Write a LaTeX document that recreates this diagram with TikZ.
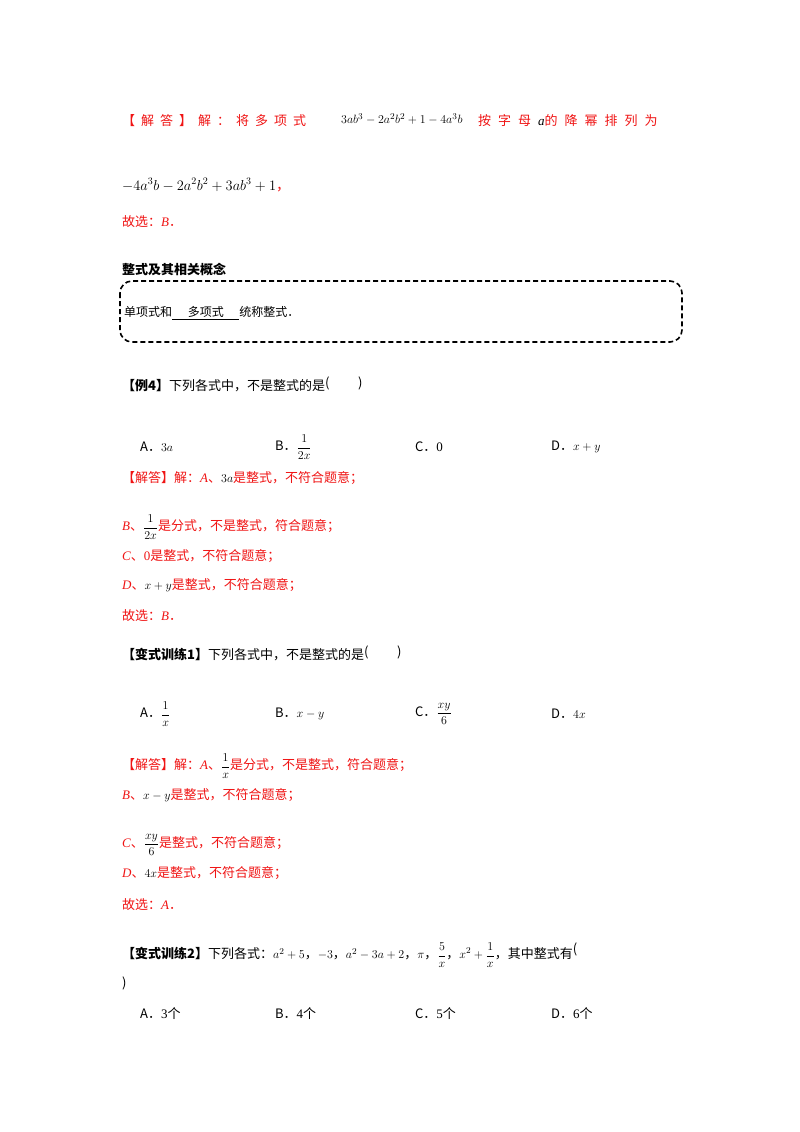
\documentclass[tikz,border=0pt]{standalone}
\usepackage{fontspec}
\setmainfont{Liberation Serif}
\newfontfamily\cjk{Noto Sans CJK SC}
\definecolor{ans}{RGB}{240,20,20}
\tikzset{t/.style={anchor=west,inner sep=0pt,font=\fontsize{13}{15}\selectfont\cjk},
r/.style={t,text=ans}}
\newcommand{\mi}[1]{{\fontspec{Liberation Serif}\itshape #1}}
\newcommand{\mr}[1]{{\fontspec{Liberation Serif}#1}}
\newcommand{\dt}{{\cjk ．}}
\begin{document}
\begin{tikzpicture}[x=1pt,y=-1pt]
\useasboundingbox (0,0) rectangle (800,1132);
\fill[white] (0,0) rectangle (800,1132);
\node[r] (l1a) at (122,121) {【\hspace{6pt}解\hspace{6pt}答\hspace{6pt}】\hspace{6pt}解\hspace{6pt}：\hspace{6pt}将\hspace{6pt}多\hspace{6pt}项\hspace{6pt}式};
\node[t,font=\fontsize{13}{15}\selectfont] (l1b) at (341,119) {$3ab^3-2a^2b^2+1-4a^3b$};
\node[r] (l1c) at (478,121) {按\hspace{7pt}字\hspace{7pt}母\hspace{7pt}\textcolor{black}{\mi{a}}的\hspace{7pt}降\hspace{7pt}幂\hspace{7pt}排\hspace{7pt}列\hspace{7pt}为};
\node[t,font=\fontsize{14}{15}\selectfont] (l2) at (122,185) {$-4a^3b-2a^2b^2+3ab^3+1$\textcolor{ans}{\cjk ，}};
\node[r] (l3) at (122,222) {故选：\mi{B}\dt};
\node[t,font=\fontsize{13}{15}\selectfont\cjk\bfseries] (h) at (122,269) {整式及其相关概念};
\draw[line width=1.6pt,dash pattern=on 5pt off 3pt,rounded corners=12pt] (120,281) rectangle (682,342);
\node[t,font=\fontsize{12}{14}\selectfont\cjk] (box) at (124,313) {单项式和\underline{\hspace{1.3em}多项式\hspace{1.3em}}统称整式．};
\node[t] (e4) at (122,384) {\textbf{【例4】}下列各式中，不是整式的是\raisebox{3pt}{(}\hspace{2.2em}\raisebox{3pt}{)}};
\node[t] (e4a) at (140,447) {A．$3a$};
\node[t] (e4b) at (275,447) {B．$\displaystyle\frac{1}{2x}$};
\node[t] (e4c) at (415,447) {C．\mr{0}};
\node[t] (e4d) at (551,447) {D．$x+y$};
\node[r] (s1) at (122,478) {【解答】解：\mi{A}、\textcolor{black}{$3a$}是整式，不符合题意；};
\node[r] (s2) at (122,527) {\mi{B}、\textcolor{black}{$\displaystyle\frac{1}{2x}$}是分式，不是整式，符合题意；};
\node[r] (s3) at (122,556) {\mi{C}、\mr{0}是整式，不符合题意；};
\node[r] (s4) at (122,585) {\mi{D}、\textcolor{black}{$x+y$}是整式，不符合题意；};
\node[r] (s5) at (122,616) {故选：\mi{B}\dt};
\node[t] (v1) at (122,653) {\textbf{【变式训练1】}下列各式中，不是整式的是\raisebox{3pt}{(}\hspace{2.2em}\raisebox{3pt}{)}};
\node[t] (v1a) at (140,714) {A．$\displaystyle\frac{1}{x}$};
\node[t] (v1b) at (275,714) {B．$x-y$};
\node[t] (v1c) at (415,714) {C．$\displaystyle\frac{xy}{6}$};
\node[t] (v1d) at (551,714) {D．$4x$};
\node[r] (u1) at (122,766) {【解答】解：\mi{A}、\textcolor{black}{$\displaystyle\frac{1}{x}$}是分式，不是整式，符合题意；};
\node[r] (u2) at (122,795) {\mi{B}、\textcolor{black}{$x-y$}是整式，不符合题意；};
\node[r] (u3) at (122,845) {\mi{C}、\textcolor{black}{$\displaystyle\frac{xy}{6}$}是整式，不符合题意；};
\node[r] (u4) at (122,873) {\mi{D}、\textcolor{black}{$4x$}是整式，不符合题意；};
\node[r] (u5) at (122,905) {故选：\mi{A}\dt};
\node[t] (v2) at (122,955) {\textbf{【变式训练2】}下列各式：$a^2+5$，$-3$，$a^2-3a+2$，$\pi$，$\displaystyle\frac{5}{x}$，$\displaystyle x^2+\frac{1}{x}$，其中整式有\raisebox{5pt}{(}};
\node[t] (v2b) at (122,983) {)};
\node[t] (v2o1) at (140,1014) {A．\mr{3}个};
\node[t] (v2o2) at (275,1014) {B．\mr{4}个};
\node[t] (v2o3) at (415,1014) {C．\mr{5}个};
\node[t] (v2o4) at (551,1014) {D．\mr{6}个};
\end{tikzpicture}
\end{document}
